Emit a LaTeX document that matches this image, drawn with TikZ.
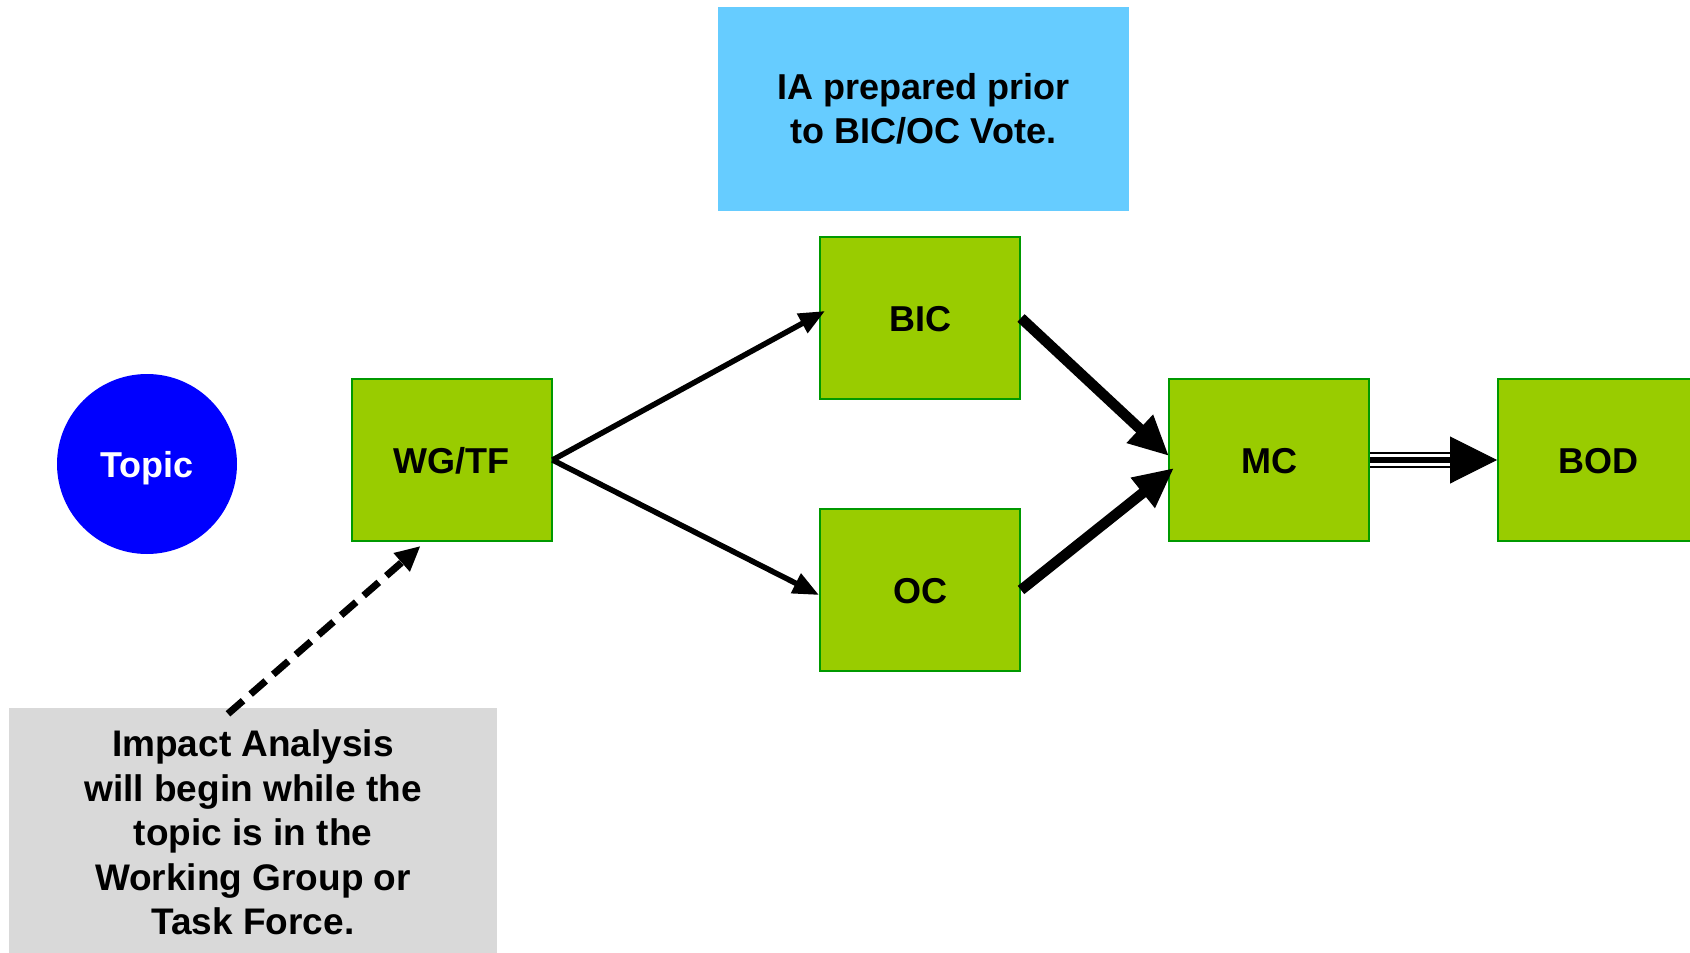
\documentclass[tikz,border=0pt]{standalone}
\usepackage{fontspec}
\setmainfont{Liberation Sans}
\usetikzlibrary{arrows.meta,calc}
\definecolor{boxgreen}{HTML}{99CC00}
\definecolor{boxedge}{HTML}{009900}
\definecolor{iablue}{HTML}{66CCFF}
\definecolor{notegray}{HTML}{D9D9D9}
\definecolor{topicblue}{HTML}{0000FF}
\begin{document}
\begin{tikzpicture}[x=1pt,y=-1pt,
  bigfont/.style={font=\bfseries\fontsize{36}{44}\selectfont},
  stagebox/.style={bigfont, draw=boxedge, line width=2pt, fill=boxgreen,
    minimum width=200pt, minimum height=162pt, inner sep=0pt,
    text height=26pt, text depth=0pt},
  topicnode/.style={bigfont, circle, fill=topicblue, text=white,
    minimum size=180pt, inner sep=0pt, text height=26pt, text depth=0pt},
  iabox/.style={bigfont, fill=iablue, minimum width=411pt,
    minimum height=204pt, inner sep=0pt, align=center},
  notebox/.style={font=\bfseries\fontsize{37}{44.5}\selectfont, fill=notegray,
    minimum width=488.5pt, minimum height=249.4pt, inner sep=0pt, align=center},
  thinarrow/.style={line width=5.5pt, -{Triangle[length=26pt,width=21pt]}},
  thickarrow/.style={line width=10.5pt, -{Triangle[length=40pt,width=36pt]}},
  dasharrow/.style={line width=7pt, dash pattern=on 20pt off 10pt,
    -{Triangle[length=25pt,width=23pt]}}
]
\useasboundingbox (0,0) rectangle (1690,953);
\clip (0,0) rectangle (1690,953);

\node[iabox] (ia) at (923.5,109) {IA prepared prior\\ to BIC/OC Vote.};
\node[topicnode] (topic) at (147,464) {Topic};
\node[stagebox] (wg) at (451.5,460) {WG/TF};
\node[stagebox] (bic) at (920,318) {BIC};
\node[stagebox] (oc) at (920,590) {OC};
\node[stagebox] (mc) at (1269,460) {MC};
\node[stagebox] (bod) at (1598,460) {BOD};
\node[notebox] (note) at (253,832.7) {Impact Analysis\\ will begin while the\\ topic is in the\\ Working Group or\\ Task Force.};

\draw[thinarrow] (wg.east) -- ($(bic.west)+(6,-7)$);
\draw[thinarrow] (wg.east) -- ($(oc.west)+(0,5)$);
\draw[thickarrow] (bic.east) -- ($(mc.west)+(1,-4)$);
\draw[thickarrow] (oc.east) -- ($(mc.west)+(6,8)$);

\draw[line width=16.6pt, shorten >=47pt] (mc.east) -- (bod.west);
\draw[white, line width=11.4pt, shorten >=47pt] (mc.east) -- (bod.west);
\draw[line width=6.4pt, shorten >=47pt] (mc.east) -- (bod.west);
\draw[line width=1pt, shorten <=78pt, -{Triangle[length=47pt,width=47pt]}] (mc.east) -- (bod.west);

\draw[dasharrow] ($(note.north)+(-25,6)$) -- ($(wg.south)+(-31,4)$);
\end{tikzpicture}
\end{document}
